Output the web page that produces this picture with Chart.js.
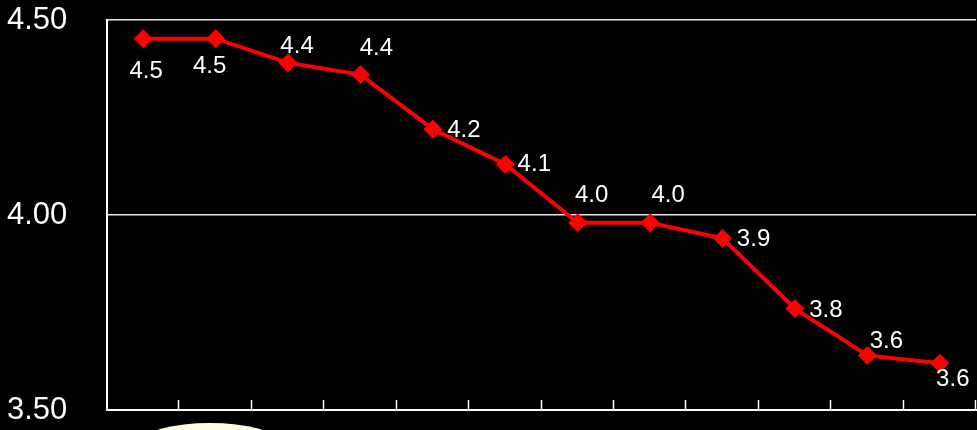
<!DOCTYPE html>
<html>
<head>
<meta charset="utf-8">
<script src="https://cdn.jsdelivr.net/npm/chart.js@4/dist/chart.umd.min.js"></script>
<style>
    html, body { margin: 0; padding: 0; background: #000; }
    #wrap { position: relative; width: 977px; height: 430px; }
</style>
</head>
<body>
<div id="wrap"><canvas id="trendChart"></canvas></div>
<script>
// ==================== DATA ====================
const categories = ['1', '2', '3', '4', '5', '6', '7', '8', '9', '10', '11', '12'];
const values = [4.452, 4.452, 4.39, 4.36, 4.22, 4.13, 3.98, 3.98, 3.94, 3.76, 3.64, 3.62];
const yTicks = [3.5, 4.0, 4.5];

// label placement relative to each point (dx, dy)
const labelOffsets = [
    [3, 33], [-6, 28], [9, -17], [16, -26], [31, 1], [29, 0],
    [14, -27], [18, -27], [31, 1], [31, 2], [19, -14], [13, 16]
];

// ==================== PLUGINS ====================
const bgPlugin = {
    id: 'bg',
    beforeDraw(chart) {
        const ctx = chart.ctx;
        ctx.save();
        ctx.fillStyle = '#000';
        ctx.fillRect(0, 0, chart.width, chart.height);
        ctx.restore();
    }
};

const axisTicksPlugin = {
    id: 'axisTicks',
    afterDraw(chart) {
        const ctx = chart.ctx;
        const x = chart.scales.x;
        const area = chart.chartArea;
        const step = (x.right - x.left) / categories.length;
        ctx.save();
        ctx.strokeStyle = '#ffffff';
        ctx.lineWidth = 1.5;
        for (let i = 1; i <= categories.length; i++) {
            const px = Math.round(x.left + i * step) - 0.5;
            ctx.beginPath();
            ctx.moveTo(px, area.bottom);
            ctx.lineTo(px, area.bottom - 10);
            ctx.stroke();
        }
        // decorative glow ellipse under the axis
        const g = ctx.createRadialGradient(210, 445, 5, 210, 445, 70);
        g.addColorStop(0, '#ffffd8');
        g.addColorStop(0.8, '#ffffe6');
        g.addColorStop(1, '#ffffff');
        ctx.fillStyle = g;
        ctx.beginPath();
        ctx.ellipse(210, 442, 68, 19, 0, 0, Math.PI * 2);
        ctx.fill();
        ctx.restore();
    }
};

const valueLabelPlugin = {
    id: 'valueLabels',
    afterDatasetsDraw(chart) {
        const ctx = chart.ctx;
        const meta = chart.getDatasetMeta(0);
        ctx.save();
        ctx.fillStyle = '#ffffff';
        ctx.font = '24px "Liberation Sans", Arial, sans-serif';
        ctx.textAlign = 'center';
        ctx.textBaseline = 'middle';
        meta.data.forEach((pt, i) => {
            const off = labelOffsets[i] || [0, -20];
            ctx.fillText(values[i].toFixed(1), pt.x + off[0], pt.y + off[1]);
        });
        ctx.restore();
    }
};

// ==================== CHART ====================
const ctx = document.getElementById('trendChart').getContext('2d');
new Chart(ctx, {
    type: 'line',
    data: {
        labels: categories,
        datasets: [{
            data: values,
            borderColor: '#ff0000',
            backgroundColor: '#ff0000',
            borderWidth: 4,
            tension: 0,
            pointStyle: 'rectRot',
            pointRadius: 9,
            pointBorderWidth: 1,
            pointBackgroundColor: '#ff0000',
            pointBorderColor: '#ff0000'
        }]
    },
    options: {
        responsive: true,
        maintainAspectRatio: false,
        animation: false,
        layout: {
            autoPadding: false,
            padding: { top: 20, right: 1, bottom: 20, left: 7 }
        },
        plugins: {
            legend: { display: false },
            tooltip: { enabled: false }
        },
        scales: {
            x: {
                offset: true,
                grid: { display: false },
                border: { display: true, color: '#ffffff', width: 2 },
                ticks: { display: false },
                afterFit: function(scale) {
                    scale.height = 0;
                    scale.paddingLeft = 0;
                    scale.paddingRight = 0;
                }
            },
            y: {
                min: 3.5,
                max: 4.5,
                afterBuildTicks: function(scale) {
                    scale.ticks = yTicks.map(v => ({ value: v }));
                },
                afterFit: function(scale) {
                    scale.width = 100;
                    scale.paddingTop = 0;
                    scale.paddingBottom = 0;
                },
                grid: { color: '#e6e6e6', lineWidth: 1.5, drawTicks: false },
                border: { display: true, color: '#ffffff', width: 2 },
                ticks: {
                    padding: 0,
                    crossAlign: 'far',
                    color: '#ffffff',
                    font: { family: '"Liberation Sans", Arial, sans-serif', size: 31 },
                    callback: function(value) { return value.toFixed(2); }
                }
            }
        }
    },
    plugins: [bgPlugin, axisTicksPlugin, valueLabelPlugin]
});
</script>
</body>
</html>
